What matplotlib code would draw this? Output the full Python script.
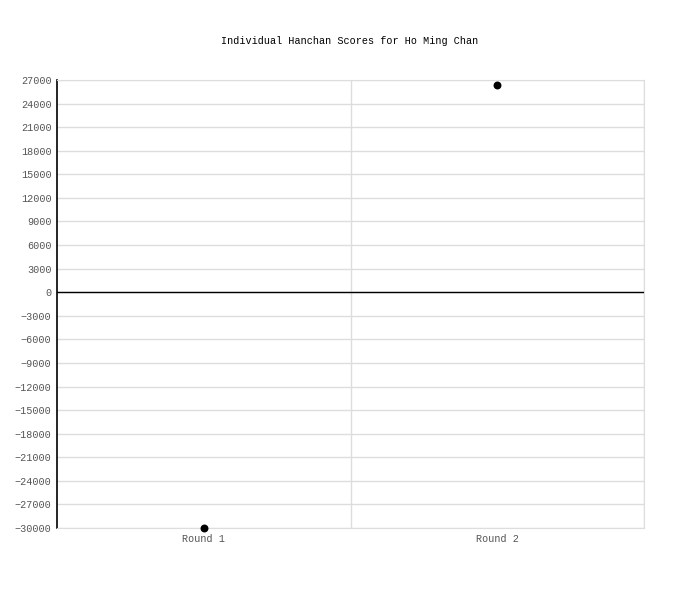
import numpy as np
import matplotlib
matplotlib.use("Agg")
from matplotlib import pyplot as plt

rounds = ["Round 1", "Round 2"]
scores = [-30000, 26400]
y_ticks = list(range(-30000, 27001, 3000))

plt.rcParams['font.family'] = ['Liberation Mono', 'DejaVu Sans Mono']

fig = plt.figure(figsize=(7, 6), dpi=100)
ax = fig.add_axes([57 / 700, 72 / 600, 587 / 700, 448 / 600])

x = np.arange(len(rounds))
ax.scatter(x, scores, s=22, color='black', zorder=5, clip_on=False)

ax.set_xlim(-0.5, len(rounds) - 0.5)
ax.set_ylim(y_ticks[0], y_ticks[-1])
ax.set_yticks(y_ticks)
ax.set_yticklabels([str(v).replace('-', '\u2212') for v in y_ticks])
ax.set_xticks(x)
ax.set_xticklabels(rounds)
ax.set_xticks(np.arange(len(rounds)) + 0.5, minor=True)

ax.grid(axis='y', color='#dddddd', linewidth=1)
ax.grid(axis='x', which='minor', color='#dddddd', linewidth=1)
ax.grid(axis='x', which='major', visible=False)
ax.set_axisbelow(True)
ax.axhline(0, color='black', linewidth=1, zorder=3)

for side in ['top', 'right', 'bottom']:
    ax.spines[side].set_color('#dddddd')
ax.spines['left'].set_color('black')
ax.spines['left'].set_linewidth(1.2)

ax.tick_params(axis='both', length=0, labelsize=7.3, labelcolor='#555555')
ax.tick_params(axis='y', pad=4)
ax.tick_params(axis='x', pad=4)
ax.tick_params(which='minor', length=0)

fig.text(350 / 700, 1 - 41 / 600, "Individual Hanchan Scores for Ho Ming Chan",
         ha='center', va='center', fontsize=7.3, color='black')

fig.savefig("out.png", dpi=100)
